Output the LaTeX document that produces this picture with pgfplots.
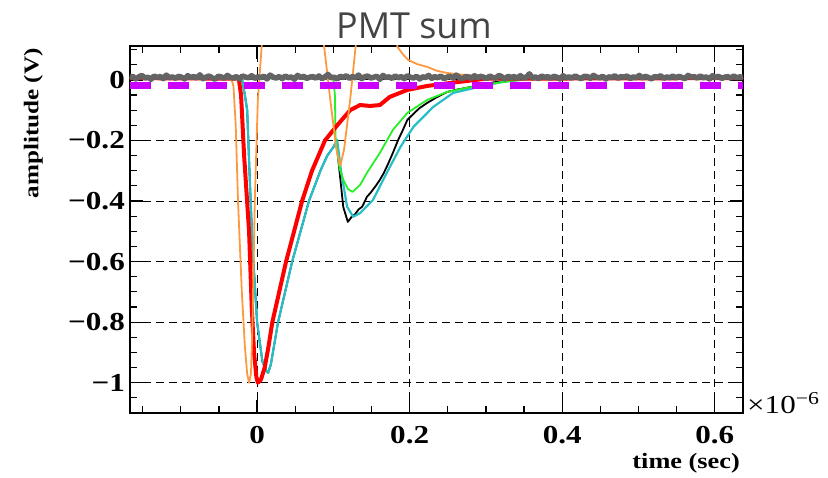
\documentclass[border=0pt]{standalone}
\usepackage{pgfplots}
\pgfplotsset{compat=1.18}
\usepackage{fontspec}
\newfontfamily\rootfont{Liberation Serif}[FakeStretch=1.2]
\newfontfamily\titlefont{Open Sans}
\definecolor{pmtorange}{RGB}{255,153,64}
\definecolor{pmtcyan}{RGB}{40,190,200}
\definecolor{pmtgreen}{RGB}{40,240,40}
\definecolor{pmtgray}{RGB}{100,100,100}
\definecolor{pmtmag}{RGB}{204,0,255}
\definecolor{titlegray}{RGB}{68,68,68}
\begin{document}
\begin{tikzpicture}
\begin{axis}[
  name=ax,
  scale only axis,
  width=613bp, height=367bp,
  xmin=-0.1666, xmax=0.637,
  ymin=-1.1, ymax=0.112,
  xtick={0,0.2,0.4,0.6},
  xticklabels={0,0.2,0.4,0.6},
  ytick={-1,-0.8,-0.6,-0.4,-0.2,0},
  yticklabels={−1,−0.8,−0.6,−0.4,−0.2,0},
  minor xtick={-0.15,-0.1,-0.05,0.05,0.1,0.15,0.25,0.3,0.35,0.45,0.5,0.55},
  minor ytick={-1.05,-0.95,-0.9,-0.85,-0.75,-0.7,-0.65,-0.55,-0.5,-0.45,-0.35,-0.3,-0.25,-0.15,-0.1,-0.05,0.05,0.1},
  tick align=inside,
  xtick pos=both, ytick pos=both,
  major tick length=13bp, minor tick length=7bp,
  tick style={black, line width=1.2bp},
  axis line style={line width=1.5bp},
  xmajorgrids, ymajorgrids,
  major grid style={black, line width=1bp, dash pattern=on 8bp off 5bp},
  ticklabel style={font=\rootfont\bfseries\fontsize{26}{28}\selectfont},
  xticklabel style={anchor=base, yshift=-30bp},
  yticklabel style={anchor=east, inner sep=0pt, xshift=-5bp},
  clip=true,
]
  % black (under cyan on the first pulse)
  \addplot[black, line width=1.8bp, line join=round] coordinates {
    (-0.167,0.006) (-0.020,0.006) (-0.016,-0.05) (-0.013,-0.10) (-0.010,-0.30) (-0.006,-0.55)
    (0.000,-0.80) (0.007,-0.93) (0.0125,-0.962) (0.0145,-0.967) (0.018,-0.94)
    (0.0275,-0.80) (0.046,-0.60) (0.068,-0.40) (0.083,-0.30) (0.092,-0.25)
    (0.100,-0.222) (0.104,-0.205) (0.108,-0.30) (0.113,-0.42) (0.119,-0.469)
    (0.124,-0.452) (0.128,-0.445) (0.133,-0.428) (0.138,-0.418) (0.144,-0.386)
    (0.149,-0.372) (0.155,-0.352) (0.161,-0.33) (0.166,-0.308) (0.172,-0.276)
    (0.178,-0.241) (0.185,-0.198) (0.191,-0.166) (0.197,-0.132) (0.205,-0.112)
    (0.213,-0.093) (0.223,-0.076) (0.235,-0.058) (0.249,-0.040) (0.262,-0.032)
    (0.275,-0.026) (0.292,-0.017) (0.310,-0.008) (0.350,0.004) (0.637,0.006)
  };
  % cyan
  \addplot[pmtcyan, line width=2.2bp, line join=round] coordinates {
    (-0.167,0.006) (-0.020,0.006) (-0.016,-0.05) (-0.013,-0.10) (-0.010,-0.30) (-0.006,-0.55)
    (0.000,-0.80) (0.007,-0.93) (0.0125,-0.962) (0.0145,-0.967) (0.018,-0.94)
    (0.0275,-0.80) (0.046,-0.60) (0.068,-0.40) (0.083,-0.30) (0.092,-0.25)
    (0.100,-0.222) (0.105,-0.198) (0.110,-0.30) (0.118,-0.419) (0.126,-0.452)
    (0.135,-0.44) (0.152,-0.396) (0.170,-0.307) (0.188,-0.221) (0.205,-0.155)
    (0.231,-0.089) (0.257,-0.043) (0.296,-0.020) (0.323,-0.006) (0.360,0.004)
    (0.637,0.006)
  };
  % green
  \addplot[pmtgreen, line width=1.8bp, line join=round] coordinates {
    (-0.167,0.006) (0.100,0.004) (0.102,-0.05) (0.103,-0.20) (0.108,-0.29)
    (0.113,-0.33) (0.119,-0.36) (0.125,-0.37) (0.135,-0.347) (0.144,-0.307)
    (0.161,-0.241) (0.178,-0.165) (0.197,-0.109) (0.223,-0.066) (0.249,-0.040)
    (0.275,-0.026) (0.306,-0.013) (0.350,0.002) (0.637,0.006)
  };
  % red
  \addplot[red, line width=4bp, line join=round] coordinates {
    (-0.167,0.006) (-0.024,0.004) (-0.021,-0.05) (-0.017,-0.25) (-0.0105,-0.50)
    (-0.007,-0.75) (-0.004,-0.90) (-0.001,-0.98) (0.001,-1.0) (0.005,-0.99)
    (0.010,-0.95) (0.015,-0.88) (0.020,-0.80) (0.038,-0.60) (0.059,-0.40)
    (0.072,-0.30) (0.089,-0.20) (0.105,-0.15) (0.122,-0.10) (0.135,-0.083)
    (0.148,-0.086) (0.161,-0.083) (0.174,-0.056) (0.197,-0.033) (0.223,-0.020)
    (0.260,-0.008) (0.300,0.004) (0.637,0.006)
  };
  % orange
  \addplot[pmtorange, line width=1.8bp, line join=round] coordinates {
    (-0.167,0.006) (-0.034,0.005) (-0.031,-0.02) (-0.028,-0.15) (-0.025,-0.40)
    (-0.020,-0.70) (-0.016,-0.88) (-0.013,-0.97) (-0.0105,-1.0) (-0.008,-0.97)
    (-0.006,-0.80) (-0.003,-0.40) (0.001,-0.066) (0.0066,0.13) (0.012,0.35)
    (0.03,0.7) (0.06,0.7) (0.082,0.35) (0.087,0.13) (0.096,-0.066)
    (0.104,-0.23) (0.109,-0.284) (0.114,-0.23) (0.122,-0.066) (0.130,0.13)
    (0.136,0.33) (0.16,0.5) (0.178,0.25) (0.184,0.109) (0.191,0.085)
    (0.198,0.066) (0.210,0.052) (0.223,0.043) (0.236,0.030) (0.249,0.023)
    (0.262,0.019) (0.275,0.016) (0.300,0.012) (0.319,0.010) (0.371,0.008)
    (0.637,0.007)
  };
  % gray noise baseline
  \addplot[pmtgray, line width=5.5bp, line join=round] table[row sep=\\] {
    x y \\
    -0.167 0.007 \\ -0.163 0.012 \\ -0.159 0.003 \\ -0.155 0.010 \\ -0.151 0.015 \\
    -0.147 0.006 \\ -0.143 0.009 \\ -0.139 0.002 \\ -0.135 0.013 \\ -0.131 0.008 \\
    -0.127 0.011 \\ -0.123 0.004 \\ -0.119 0.016 \\ -0.115 0.007 \\ -0.111 0.010 \\
    -0.107 0.005 \\ -0.103 0.012 \\ -0.099 0.009 \\ -0.095 0.003 \\ -0.091 0.014 \\
    -0.087 0.008 \\ -0.083 0.011 \\ -0.079 0.006 \\ -0.075 0.017 \\ -0.071 0.004 \\
    -0.067 0.009 \\ -0.063 0.013 \\ -0.059 0.007 \\ -0.055 0.002 \\ -0.051 0.012 \\
    -0.047 0.010 \\ -0.043 0.005 \\ -0.039 0.015 \\ -0.035 0.008 \\ -0.031 0.006 \\
    -0.027 0.011 \\ -0.023 0.003 \\ -0.019 0.013 \\ -0.015 0.009 \\ -0.011 0.007 \\
    -0.007 0.014 \\ -0.003 0.005 \\ 0.001 0.010 \\ 0.005 0.008 \\ 0.009 0.012 \\
    0.013 0.003 \\ 0.017 0.016 \\ 0.021 0.009 \\ 0.025 0.006 \\ 0.029 0.011 \\
    0.033 0.004 \\ 0.037 0.013 \\ 0.041 0.007 \\ 0.045 0.010 \\ 0.049 0.002 \\
    0.053 0.015 \\ 0.057 0.008 \\ 0.061 0.012 \\ 0.065 0.005 \\ 0.069 0.009 \\
    0.073 0.011 \\ 0.077 0.006 \\ 0.081 0.013 \\ 0.085 0.004 \\ 0.089 0.010 \\
    0.093 0.018 \\ 0.097 0.007 \\ 0.101 0.009 \\ 0.105 0.003 \\ 0.109 0.012 \\
    0.113 0.008 \\ 0.117 0.014 \\ 0.121 0.005 \\ 0.125 0.011 \\ 0.129 0.007 \\
    0.133 0.016 \\ 0.137 0.004 \\ 0.141 0.010 \\ 0.145 0.013 \\ 0.149 0.006 \\
    0.153 0.009 \\ 0.157 0.012 \\ 0.161 0.002 \\ 0.165 0.015 \\ 0.169 0.008 \\
    0.173 0.010 \\ 0.177 0.005 \\ 0.181 0.013 \\ 0.185 0.007 \\ 0.189 0.011 \\
    0.193 0.004 \\ 0.197 0.014 \\ 0.201 0.009 \\ 0.205 0.006 \\ 0.209 0.012 \\
    0.213 0.003 \\ 0.217 0.010 \\ 0.221 0.008 \\ 0.225 0.015 \\ 0.229 0.005 \\
    0.233 0.011 \\ 0.237 0.007 \\ 0.241 0.013 \\ 0.245 0.004 \\ 0.249 0.009 \\
    0.253 0.012 \\ 0.257 0.006 \\ 0.261 0.016 \\ 0.265 0.008 \\ 0.269 0.003 \\
    0.273 0.011 \\ 0.277 0.010 \\ 0.281 0.005 \\ 0.285 0.014 \\ 0.289 0.007 \\
    0.293 0.012 \\ 0.297 0.009 \\ 0.301 0.004 \\ 0.305 0.013 \\ 0.309 0.008 \\
    0.313 0.006 \\ 0.317 0.015 \\ 0.321 0.010 \\ 0.325 0.003 \\ 0.329 0.012 \\
    0.333 0.008 \\ 0.337 0.011 \\ 0.341 0.005 \\ 0.345 0.014 \\ 0.349 0.007 \\
    0.353 0.009 \\ 0.357 0.020 \\ 0.361 0.006 \\ 0.365 0.010 \\ 0.369 0.004 \\
    0.373 0.013 \\ 0.377 0.008 \\ 0.381 0.011 \\ 0.385 0.005 \\ 0.389 0.012 \\
    0.393 0.009 \\ 0.397 0.003 \\ 0.401 0.014 \\ 0.405 0.007 \\ 0.409 0.010 \\
    0.413 0.006 \\ 0.417 0.013 \\ 0.421 0.008 \\ 0.425 0.004 \\ 0.429 0.012 \\
    0.433 0.011 \\ 0.437 0.005 \\ 0.441 0.015 \\ 0.445 0.009 \\ 0.449 0.007 \\
    0.453 0.012 \\ 0.457 0.003 \\ 0.461 0.010 \\ 0.465 0.008 \\ 0.469 0.014 \\
    0.473 0.005 \\ 0.477 0.011 \\ 0.481 0.009 \\ 0.485 0.013 \\ 0.489 0.004 \\
    0.493 0.010 \\ 0.497 0.007 \\ 0.501 0.015 \\ 0.505 0.006 \\ 0.509 0.012 \\
    0.513 0.008 \\ 0.517 0.003 \\ 0.521 0.011 \\ 0.525 0.009 \\ 0.529 0.014 \\
    0.533 0.005 \\ 0.537 0.010 \\ 0.541 0.007 \\ 0.545 0.013 \\ 0.549 0.006 \\
    0.553 0.012 \\ 0.557 0.008 \\ 0.561 0.004 \\ 0.565 0.015 \\ 0.569 0.009 \\
    0.573 0.011 \\ 0.577 0.006 \\ 0.581 0.013 \\ 0.585 0.007 \\ 0.589 0.010 \\
    0.593 0.003 \\ 0.597 0.014 \\ 0.601 0.008 \\ 0.605 0.012 \\ 0.609 0.005 \\
    0.613 0.009 \\ 0.617 0.011 \\ 0.621 0.006 \\ 0.625 0.013 \\ 0.629 0.007 \\
    0.633 0.010 \\ 0.637 0.008 \\
  };
  % magenta dashed baseline
  \addplot[pmtmag, line width=7bp, dash pattern=on 21bp off 17bp] coordinates {
    (-0.1666,-0.02) (0.637,-0.02)
  };
\end{axis}
\node[font=\titlefont\fontsize{36}{40}\selectfont, text=titlegray, anchor=base]
  at ([xshift=284bp, yshift=7bp]ax.north west) {PMT sum};
\node[font=\rootfont\bfseries\fontsize{21}{24}\selectfont, rotate=90, anchor=south east, inner sep=0pt]
  at ([xshift=-87bp, yshift=-2bp]ax.north west) {amplitude (V)};
\node[font=\rootfont\bfseries\fontsize{22}{24}\selectfont, anchor=base east, inner sep=0pt]
  at ([xshift=-3bp, yshift=-55bp]ax.south east) {time (sec)};
\node[font=\rootfont\fontsize{26}{28}\selectfont, anchor=base west, inner sep=0pt]
  at ([xshift=4bp]ax.south east) {×10\textsuperscript{−6}};
\pgfresetboundingbox
\useasboundingbox ([xshift=-130bp, yshift=-65bp]ax.south west) rectangle ([xshift=698bp, yshift=46bp]ax.north west);
\end{tikzpicture}
\end{document}
